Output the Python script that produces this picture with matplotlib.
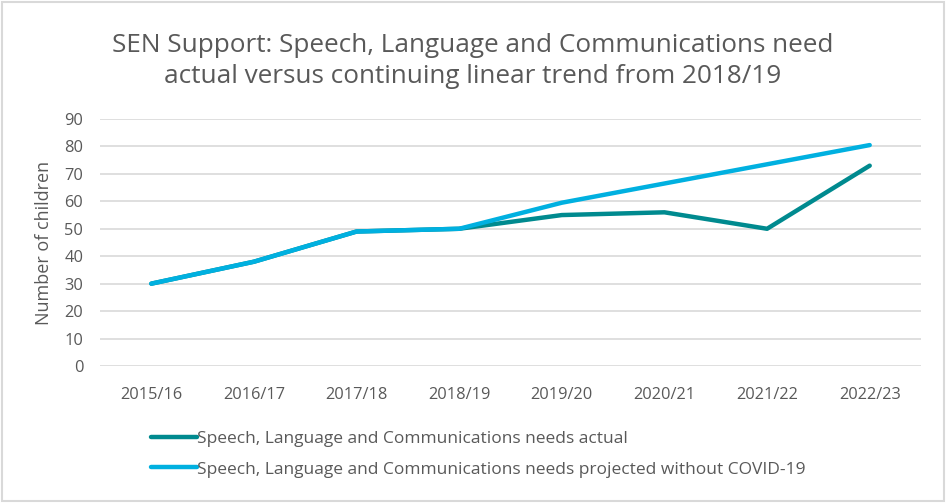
import matplotlib
matplotlib.use('Agg')
import matplotlib.pyplot as plt
from matplotlib.patches import Rectangle

# Data
years = ['2015/16', '2016/17', '2017/18', '2018/19', '2019/20', '2020/21', '2021/22', '2022/23']
actual = [30, 38, 49, 50, 55, 56, 50, 73]
projected = [30, 38, 49, 50, 59.5, 66.5, 73.5, 80.5]
yticks = [0, 10, 20, 30, 40, 50, 60, 70, 80, 90]

labelActual = 'Speech, Language and Communications needs actual'
labelProjected = 'Speech, Language and Communications needs projected without COVID-19'
title = 'SEN Support: Speech, Language and Communications need\nactual versus continuing linear trend from 2018/19'

textColor = '#595959'
plt.rcParams['font.family'] = ['Open Sans', 'DejaVu Sans']

# Figure with fixed size
fig = plt.figure(figsize=(9.46, 5.03), dpi=100)
ax = fig.add_axes([0.1057, 0.2724, 0.8679, 0.491])

# Grid
ax.set_axisbelow(True)
ax.grid(True, axis='y', color='#D9D9D9', linewidth=1.2, zorder=0)

x = range(len(years))
ax.plot(x, actual, color='#008A8F', linewidth=3.2, solid_capstyle='round', label=labelActual, zorder=2)
ax.plot(x, projected, color='#00B0E0', linewidth=3.2, solid_capstyle='round', label=labelProjected, zorder=3)

# Axes
ax.set_xlim(-0.5, len(years) - 0.5)
ax.set_ylim(0, 90)
ax.set_yticks(yticks)
ax.set_xticks(list(x))
ax.set_xticklabels(years)
ax.tick_params(axis='both', length=0, labelsize=11.8, colors=textColor)
ax.tick_params(axis='x', pad=15)
ax.tick_params(axis='y', pad=12)
for s in ax.spines.values():
    s.set_visible(False)

ax.set_ylabel('Number of children', fontsize=13, color=textColor, labelpad=8)

# Title
fig.text(0.5, 0.878, title, ha='center', va='center', fontsize=18.8, color=textColor, linespacing=1.32)

# Legend
leg = fig.legend(loc='upper left', bbox_to_anchor=(0.152, 0.158), frameon=False,
                 fontsize=12.5, handlelength=2.65, handletextpad=0.0, labelspacing=0.85,
                 borderaxespad=0)
for t in leg.get_texts():
    t.set_color(textColor)

# Border
fig.patches.append(Rectangle((0.002, 0.003), 0.996, 0.994, transform=fig.transFigure,
                             fill=False, edgecolor='#D9D9D9', linewidth=1.5))

plt.savefig('out.png', dpi=100)
